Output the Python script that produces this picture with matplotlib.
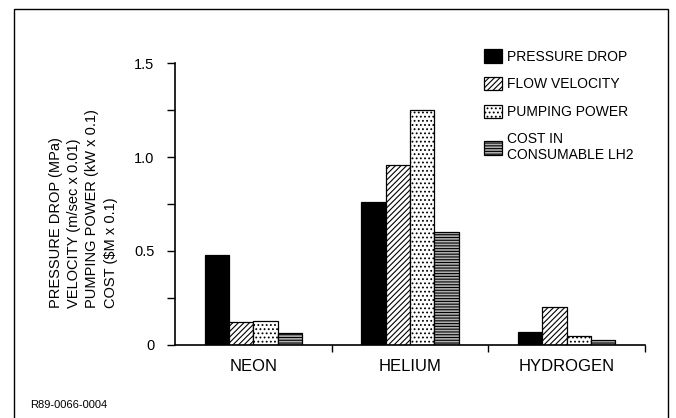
import numpy as np
import matplotlib.pyplot as plt
from matplotlib.patches import Rectangle

plt.rcParams['font.family'] = ['Liberation Sans', 'DejaVu Sans']
plt.rcParams['hatch.linewidth'] = 0.8

# data
gases = ["NEON", "HELIUM", "HYDROGEN"]
pressure_drop = [0.48, 0.76, 0.07]
flow_velocity = [0.12, 0.96, 0.20]
pumping_power = [0.125, 1.25, 0.045]
cost_lh2 = [0.065, 0.60, 0.025]

series = [
    ("PRESSURE DROP", pressure_drop, dict(facecolor="black", hatch=None)),
    ("FLOW VELOCITY", flow_velocity, dict(facecolor="white", hatch="//////")),
    ("PUMPING POWER", pumping_power, dict(facecolor="white", hatch="....")),
    ("COST IN\nCONSUMABLE LH2", cost_lh2, dict(facecolor="#b0b0b0", hatch="------")),
]

fig = plt.figure(figsize=(6.76, 4.18), dpi=100)
ax = fig.add_axes([0.259, 0.175, 0.695, 0.674])

x = np.arange(len(gases))
w = 0.155
for i, (name, vals, st) in enumerate(series):
    ax.bar(x + (i - 1.5) * w, vals, w, edgecolor="black", linewidth=0.9,
           label=name, **st)

ax.set_xlim(-0.5, 2.5)
ax.set_ylim(0, 1.5)
ax.spines["top"].set_visible(False)
ax.spines["right"].set_visible(False)
ax.spines["left"].set_linewidth(1.2)
ax.spines["bottom"].set_linewidth(1.2)
ax.set_yticks([0, 0.5, 1.0, 1.5])
ax.set_yticklabels(["0", "0.5", "1.0", "1.5"], fontsize=10.5)
ax.set_yticks([0.25, 0.75, 1.25], minor=True)
ax.tick_params(axis="y", which="both", direction="out", length=6, width=1, pad=9)
ax.set_xticks(x)
ax.set_xticklabels(gases, fontsize=12)
ax.tick_params(axis="x", which="major", length=0, pad=10)
ax.set_xticks([0.5, 1.5, 2.5], minor=True)
ax.tick_params(axis="x", which="minor", direction="out", length=5, width=1)

ax.legend(loc="upper left", bbox_to_anchor=(0.63, 1.093), frameon=False,
          fontsize=10, handlelength=1.3, handleheight=1.1,
          labelspacing=0.95, handletextpad=0.4)

fig.text(0.072, 0.262,
         "PRESSURE DROP (MPa)\nVELOCITY (m/sec x 0.01)\nPUMPING POWER (kW x 0.1)\nCOST ($M x 0.1)",
         rotation=90, ha="left", va="bottom", fontsize=10.5, linespacing=1.4,
         multialignment="left")
fig.text(0.045, 0.025, "R89-0066-0004", fontsize=8)

fig.add_artist(Rectangle((14 / 676, -0.01), (668 - 14) / 676, 1 - 9 / 418 + 0.01,
                         transform=fig.transFigure, fill=False, edgecolor="black",
                         linewidth=1.0))

fig.savefig("out.png", dpi=100)
